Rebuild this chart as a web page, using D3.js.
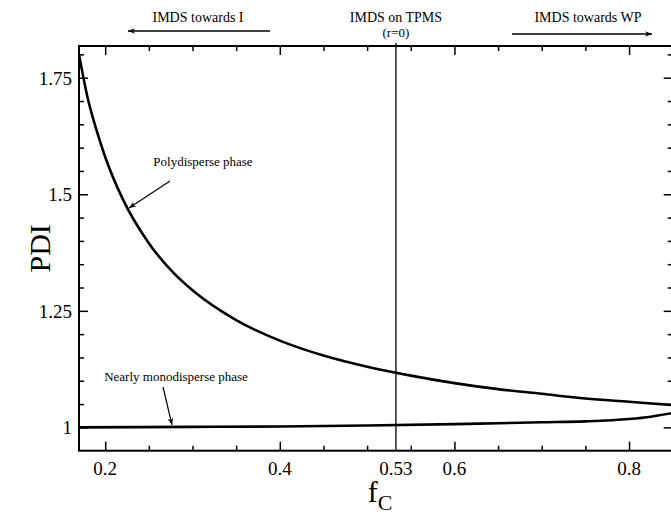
<!DOCTYPE html>
<html>
<head>
<meta charset="utf-8">
<script src="https://cdn.jsdelivr.net/npm/d3@7"></script>
<style>
  html, body { margin: 0; padding: 0; background: #fff; }
  svg { display: block; }
  text { font-family: "Liberation Serif", "DejaVu Serif", serif; fill: #000; }
</style>
</head>
<body>
<svg id="chart" width="671" height="514"></svg>
<script>
// ---- data ----
const polyF   = [0.170, 0.180, 0.190, 0.200, 0.220, 0.250, 0.280, 0.300, 0.350, 0.400, 0.450, 0.500, 0.550, 0.600, 0.650, 0.700, 0.750, 0.800, 0.850];
const polyPDI = [1.800, 1.706, 1.638, 1.580, 1.490, 1.395, 1.328, 1.294, 1.230, 1.186, 1.154, 1.130, 1.111, 1.095, 1.082, 1.072, 1.062, 1.055, 1.048];
const monoF   = [0.170, 0.300, 0.400, 0.500, 0.600, 0.650, 0.700, 0.750, 0.800, 0.825, 0.850];
const monoPDI = [1.000, 1.001, 1.002, 1.004, 1.007, 1.009, 1.011, 1.013, 1.018, 1.023, 1.031];
const xMajorTicks = [0.2, 0.4, 0.6, 0.8];
const xMinorTicks = [0.25, 0.3, 0.35, 0.45, 0.5, 0.55, 0.65, 0.7, 0.75];
const xSpecialTick = 0.533;      // marked line: IMDS on TPMS (r=0)
const xSpecialLabel = "0.53";
const yMajorTicks = [1, 1.25, 1.5, 1.75];
const yMinorTicks = [1.05, 1.1, 1.15, 1.2, 1.3, 1.35, 1.4, 1.45, 1.55, 1.6, 1.65, 1.7, 1.8];
const xDomain = [0.17, 0.85];
const yDomain = [0.95, 1.818];

// ---- layout ----
const svg = d3.select("#chart");
const L = 79, T = 46, R = 672.7, B = 450.7;
const x = d3.scaleLinear().domain(xDomain).range([L, R]);
const y = d3.scaleLinear().domain(yDomain).range([B, T]);

// vertical marker line
svg.append("line")
  .attr("x1", x(xSpecialTick)).attr("x2", x(xSpecialTick))
  .attr("y1", T - 3).attr("y2", B)
  .attr("stroke", "#000").attr("stroke-width", 1.3);

// axes with inward ticks
function addAxis(axisGen, transform, tickVals, size) {
  const g = svg.append("g").attr("transform", transform)
    .call(axisGen.tickValues(tickVals).tickSize(size).tickFormat(""));
  g.select(".domain").remove();
  g.selectAll(".tick line").attr("stroke", "#000").attr("stroke-width", 1.5);
  return g;
}
addAxis(d3.axisTop(x), `translate(0,${B})`, xMajorTicks, 9);
addAxis(d3.axisTop(x), `translate(0,${B})`, xMinorTicks, 5);
addAxis(d3.axisBottom(x), `translate(0,${T})`, xMajorTicks, 9);
addAxis(d3.axisBottom(x), `translate(0,${T})`, xMinorTicks, 5);
addAxis(d3.axisRight(y), `translate(${L},0)`, yMajorTicks, 9);
addAxis(d3.axisRight(y), `translate(${L},0)`, yMinorTicks, 5);
addAxis(d3.axisLeft(y), `translate(${R},0)`, yMajorTicks, 9);
addAxis(d3.axisLeft(y), `translate(${R},0)`, yMinorTicks, 5);

// frame
svg.append("rect").attr("x", L).attr("y", T).attr("width", R - L).attr("height", B - T)
  .attr("fill", "none").attr("stroke", "#000").attr("stroke-width", 2);

// tick labels
const xLabs = xMajorTicks.map(v => ({v, t: String(v)})).concat([{v: xSpecialTick, t: xSpecialLabel}]);
svg.append("g").selectAll("text").data(xLabs).join("text")
  .attr("x", d => x(d.v)).attr("y", B + 24)
  .attr("text-anchor", "middle").attr("font-size", 19)
  .text(d => d.t);
svg.append("g").selectAll("text").data(yMajorTicks).join("text")
  .attr("x", L - 7).attr("y", d => y(d) + 7)
  .attr("text-anchor", "end").attr("font-size", 19)
  .text(d => String(d));

// axis titles
svg.append("text").attr("transform", `translate(50,${(T + B) / 2}) rotate(-90)`)
  .attr("text-anchor", "middle").attr("font-size", 30).text("PDI");
const xt = svg.append("text").attr("x", 380).attr("y", 502).attr("text-anchor", "middle").attr("font-size", 30);
xt.append("tspan").text("f");
xt.append("tspan").attr("font-size", 22).attr("dy", 8).text("C");

// curves
const line = d3.line().x(d => x(d[0])).y(d => y(d[1])).curve(d3.curveMonotoneX);
svg.append("clipPath").attr("id", "clip").append("rect")
  .attr("x", L).attr("y", T).attr("width", R - L).attr("height", B - T);
svg.append("path").datum(polyF.map((f, i) => [f, polyPDI[i]]))
  .attr("d", line).attr("fill", "none").attr("stroke", "#000").attr("stroke-width", 2.6)
  .attr("clip-path", "url(#clip)");
svg.append("path").datum(monoF.map((f, i) => [f, monoPDI[i]]))
  .attr("d", line).attr("fill", "none").attr("stroke", "#000").attr("stroke-width", 2.6)
  .attr("clip-path", "url(#clip)");

// arrow marker
const defs = svg.append("defs");
defs.append("marker").attr("id", "arr").attr("viewBox", "0 0 10 10")
  .attr("refX", 10).attr("refY", 5).attr("markerWidth", 7).attr("markerHeight", 7)
  .attr("markerUnits", "userSpaceOnUse").attr("orient", "auto")
  .append("path").attr("d", "M0,1 L10,5 L0,9 L3,5 Z").attr("fill", "#000");

function arrow(x1, y1, x2, y2, w) {
  svg.append("line").attr("x1", x1).attr("y1", y1).attr("x2", x2).attr("y2", y2)
    .attr("stroke", "#000").attr("stroke-width", w || 1.2).attr("marker-end", "url(#arr)");
}

// annotations
svg.append("text").attr("x", 203).attr("y", 166).attr("text-anchor", "middle").attr("font-size", 13)
  .text("Polydisperse phase");
arrow(170, 181, 129, 208);
svg.append("text").attr("x", 176).attr("y", 381).attr("text-anchor", "middle").attr("font-size", 13)
  .text("Nearly monodisperse phase");
arrow(163, 387, 172, y(1.001) - 2);

svg.append("text").attr("x", 198).attr("y", 22).attr("text-anchor", "middle").attr("font-size", 14)
  .text("IMDS towards I");
arrow(270, 31, 128, 31, 1.3);
svg.append("text").attr("x", x(xSpecialTick)).attr("y", 22).attr("text-anchor", "middle").attr("font-size", 14)
  .text("IMDS on TPMS");
svg.append("text").attr("x", x(xSpecialTick)).attr("y", 37).attr("text-anchor", "middle").attr("font-size", 13)
  .text("(r=0)");
svg.append("text").attr("x", 588).attr("y", 22).attr("text-anchor", "middle").attr("font-size", 14)
  .text("IMDS towards WP");
arrow(512, 34, 652, 34, 1.3);
</script>
</body>
</html>
